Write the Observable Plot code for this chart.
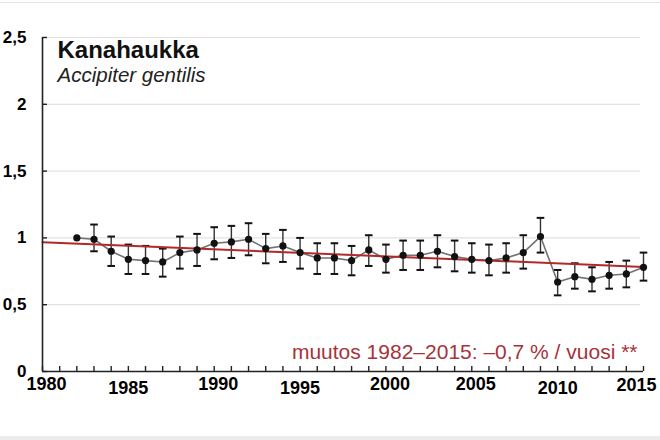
<!DOCTYPE html>
<html><head><meta charset="utf-8">
<script src="https://cdn.jsdelivr.net/npm/d3@7"></script>
<script src="https://cdn.jsdelivr.net/npm/@observablehq/plot@0.6"></script>
<style>
body{margin:0;background:#fff;}
#wrap{position:relative;width:660px;height:440px;overflow:hidden;font-family:"Liberation Sans",Arial,sans-serif;background:#fff;}
#wrap svg{position:absolute;left:0;top:0;}
.topline{position:absolute;left:0;top:2px;width:660px;height:1px;background:#e4e4e4;}
.botband{position:absolute;left:0;top:436px;width:660px;height:4px;background:#ececec;}
</style></head><body>
<div id="wrap"><div class="topline"></div><div class="botband"></div></div>
<script>
const years = [1982,1983,1984,1985,1986,1987,1988,1989,1990,1991,1992,1993,1994,1995,1996,1997,1998,1999,2000,2001,2002,2003,2004,2005,2006,2007,2008,2009,2010,2011,2012,2013,2014,2015];
const indexValues = [1.00,0.99,0.90,0.84,0.83,0.82,0.89,0.91,0.96,0.97,0.99,0.92,0.94,0.89,0.85,0.85,0.83,0.91,0.84,0.87,0.87,0.90,0.86,0.84,0.83,0.85,0.89,1.01,0.67,0.71,0.69,0.72,0.73,0.78];
const upperValues = [null,1.10,1.01,0.95,0.94,0.92,1.01,1.03,1.08,1.09,1.11,1.03,1.06,1.00,0.96,0.96,0.94,1.02,0.95,0.98,0.98,1.02,0.98,0.96,0.95,0.96,1.02,1.15,0.76,0.81,0.78,0.82,0.83,0.89];
const lowerValues = [null,0.90,0.79,0.73,0.73,0.71,0.77,0.79,0.84,0.85,0.87,0.81,0.82,0.77,0.73,0.73,0.72,0.79,0.74,0.76,0.76,0.78,0.75,0.74,0.72,0.74,0.77,0.89,0.57,0.62,0.60,0.62,0.63,0.68];
const trendYears = [1980, 2015];
const trendValues = [0.967, 0.783];
const yTicks = [0, 0.5, 1, 1.5, 2, 2.5];
const xTicksUpper = [1990, 2000, 2005];
const xTicksLower = [1985, 1995, 2010];
const xTickFirst = [1980];
const xTickLast = [2015];
const minorYears = [1980,1981,1982,1983,1984,1985,1986,1987,1988,1989,1990,1991,1992,1993,1994,1995,1996,1997,1998,1999,2000,2001,2002,2003,2004,2005,2006,2007,2008,2009,2010,2011,2012,2013,2014,2015];
const titleText = "Kanahaukka";
const subtitleText = "Accipiter gentilis";
const noteText = "muutos 1982–2015: –0,7 % / vuosi **";

const rows = years.map((year, i) => ({year, value: indexValues[i], lo: lowerValues[i], hi: upperValues[i]}));
const bars = rows.filter(d => d.hi != null);
const trend = trendYears.map((year, i) => ({year, value: trendValues[i]}));
const capSymbol = {draw(ctx) { ctx.moveTo(-3.8, 0); ctx.lineTo(3.8, 0); }};
const yearFmt = d => String(d);
const xAxisStyle = {tickSize: 0, fontSize: 18, fontWeight: "bold", tickFormat: yearFmt, label: null};

const chart = Plot.plot({
  width: 660,
  height: 440,
  marginLeft: 42,
  marginRight: 17,
  marginTop: 37,
  marginBottom: 69,
  style: {fontFamily: '"Liberation Sans", Arial, sans-serif', color: "black", background: "transparent"},
  x: {domain: [1980, 2015], axis: null},
  y: {domain: [0, 2.5], axis: null},
  marks: [
    Plot.ruleY(yTicks.filter(d => d > 0), {stroke: "#e2e2e2", strokeWidth: 1.2, insetRight: 3}),
    Plot.ruleX(bars, {x: "year", y1: "lo", y2: "hi", stroke: "#333", strokeWidth: 1.4}),
    Plot.dot(bars, {x: "year", y: "hi", symbol: capSymbol, stroke: "#111", strokeWidth: 2, fill: "none"}),
    Plot.dot(bars, {x: "year", y: "lo", symbol: capSymbol, stroke: "#111", strokeWidth: 2, fill: "none"}),
    Plot.line(rows, {x: "year", y: "value", stroke: "#727272", strokeWidth: 1.6}),
    Plot.line(trend, {x: "year", y: "value", stroke: "#b02a2a", strokeWidth: 2}),
    Plot.dot(rows, {x: "year", y: "value", r: 3.6, fill: "#111", stroke: "none"}),
    Plot.ruleX([1980], {stroke: "#222", strokeWidth: 1.6}),
    Plot.ruleY([0], {stroke: "#222", strokeWidth: 1.6}),
    Plot.tickX(minorYears, {x: d => d, insetTop: 329, stroke: "#222", strokeWidth: 1.4}),
    Plot.tickY(yTicks, {y: d => d, insetRight: 596, stroke: "#222", strokeWidth: 1.4}),
    Plot.axisY(yTicks, {tickSize: 0, tickPadding: 16, fontSize: 17, fontWeight: "bold", label: null, tickFormat: d => String(d).replace(".", ",")}),
    Plot.axisX(xTicksUpper, {...xAxisStyle, tickPadding: 6, dx: 4}),
    Plot.axisX(xTicksLower, {...xAxisStyle, tickPadding: 10}),
    Plot.axisX(xTickFirst, {...xAxisStyle, tickPadding: 6, dx: 4}),
    Plot.axisX(xTickLast, {...xAxisStyle, tickPadding: 7, dx: -7}),
    Plot.text([titleText], {frameAnchor: "top-left", textAnchor: "start", lineAnchor: "bottom", dx: 15, dy: 20, fontSize: 24, fontWeight: "bold", fill: "#111"}),
    Plot.text([subtitleText], {frameAnchor: "top-left", textAnchor: "start", lineAnchor: "bottom", dx: 15, dy: 44, fontSize: 20.5, fontStyle: "italic", fill: "#222"}),
    Plot.text([noteText], {frameAnchor: "bottom-right", textAnchor: "end", lineAnchor: "bottom", dx: -6, dy: -13, fontSize: 21, fill: "#a8323a"})
  ]
});
document.getElementById("wrap").appendChild(chart);
</script>
</body></html>
